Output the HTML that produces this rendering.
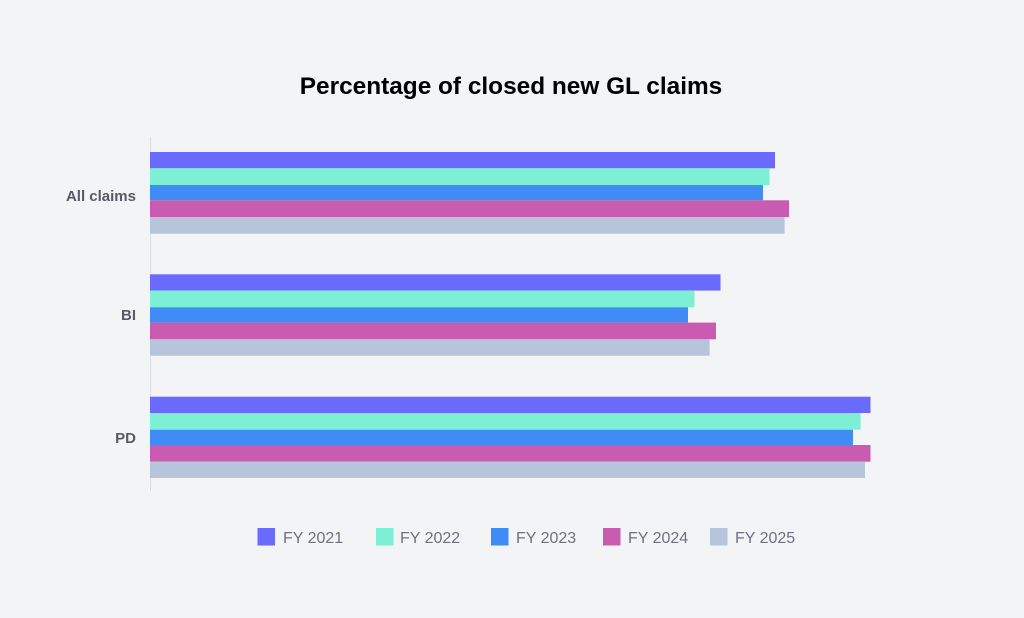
<!DOCTYPE html>
<html><head><meta charset="utf-8"><style>
body{margin:0;background:#f3f4f6;}
svg{display:block;font-family:"Liberation Sans",Arial,sans-serif;}
</style></head><body>
<svg width="1024" height="618" viewBox="0 0 1024 618">
<rect width="1024" height="618" fill="#f3f4f6"/>
<text x="511" y="94" text-anchor="middle" font-size="24.4" font-weight="bold" fill="#000">Percentage of closed new GL claims</text>
<line x1="150.5" y1="137" x2="150.5" y2="491" stroke="#dcdde0" stroke-width="1"/>
<g font-size="15" font-weight="bold" fill="#555b66" text-anchor="end">
<text x="136" y="201">All claims</text>
<text x="136" y="320">BI</text>
<text x="136" y="443">PD</text>
</g>
<g>
<rect x="150" y="152" width="625" height="16.3" fill="#6a6afe"/>
<rect x="150" y="168.3" width="619.5" height="16.7" fill="#7cefd4"/>
<rect x="150" y="185" width="613" height="15.3" fill="#3f8cf7"/>
<rect x="150" y="200.3" width="639" height="16.7" fill="#c95bb1"/>
<rect x="150" y="217" width="634.6" height="16.7" fill="#b6c4dc"/>

<rect x="150" y="274.3" width="570.5" height="16.3" fill="#6a6afe"/>
<rect x="150" y="290.6" width="544.5" height="16.7" fill="#7cefd4"/>
<rect x="150" y="307.3" width="538" height="15.3" fill="#3f8cf7"/>
<rect x="150" y="322.6" width="566" height="16.7" fill="#c95bb1"/>
<rect x="150" y="339.3" width="559.6" height="16.4" fill="#b6c4dc"/>

<rect x="150" y="396.7" width="720.5" height="16.3" fill="#6a6afe"/>
<rect x="150" y="413" width="710.6" height="16.7" fill="#7cefd4"/>
<rect x="150" y="429.7" width="703" height="15.3" fill="#3f8cf7"/>
<rect x="150" y="445" width="720.5" height="16.7" fill="#c95bb1"/>
<rect x="150" y="461.7" width="715" height="16.3" fill="#b6c4dc"/>
</g>
<g font-size="16" fill="#6b7280">
<rect x="257.5" y="528" width="17.5" height="17.5" fill="#6a6afe"/><text x="283" y="543">FY 2021</text>
<rect x="376" y="528" width="17.5" height="17.5" fill="#7cefd4"/><text x="400" y="543">FY 2022</text>
<rect x="491" y="528" width="17.5" height="17.5" fill="#3f8cf7"/><text x="516" y="543">FY 2023</text>
<rect x="603" y="528" width="17.5" height="17.5" fill="#c95bb1"/><text x="628" y="543">FY 2024</text>
<rect x="710" y="528" width="17.5" height="17.5" fill="#b6c4dc"/><text x="735" y="543">FY 2025</text>
</g>
</svg>
</body></html>
